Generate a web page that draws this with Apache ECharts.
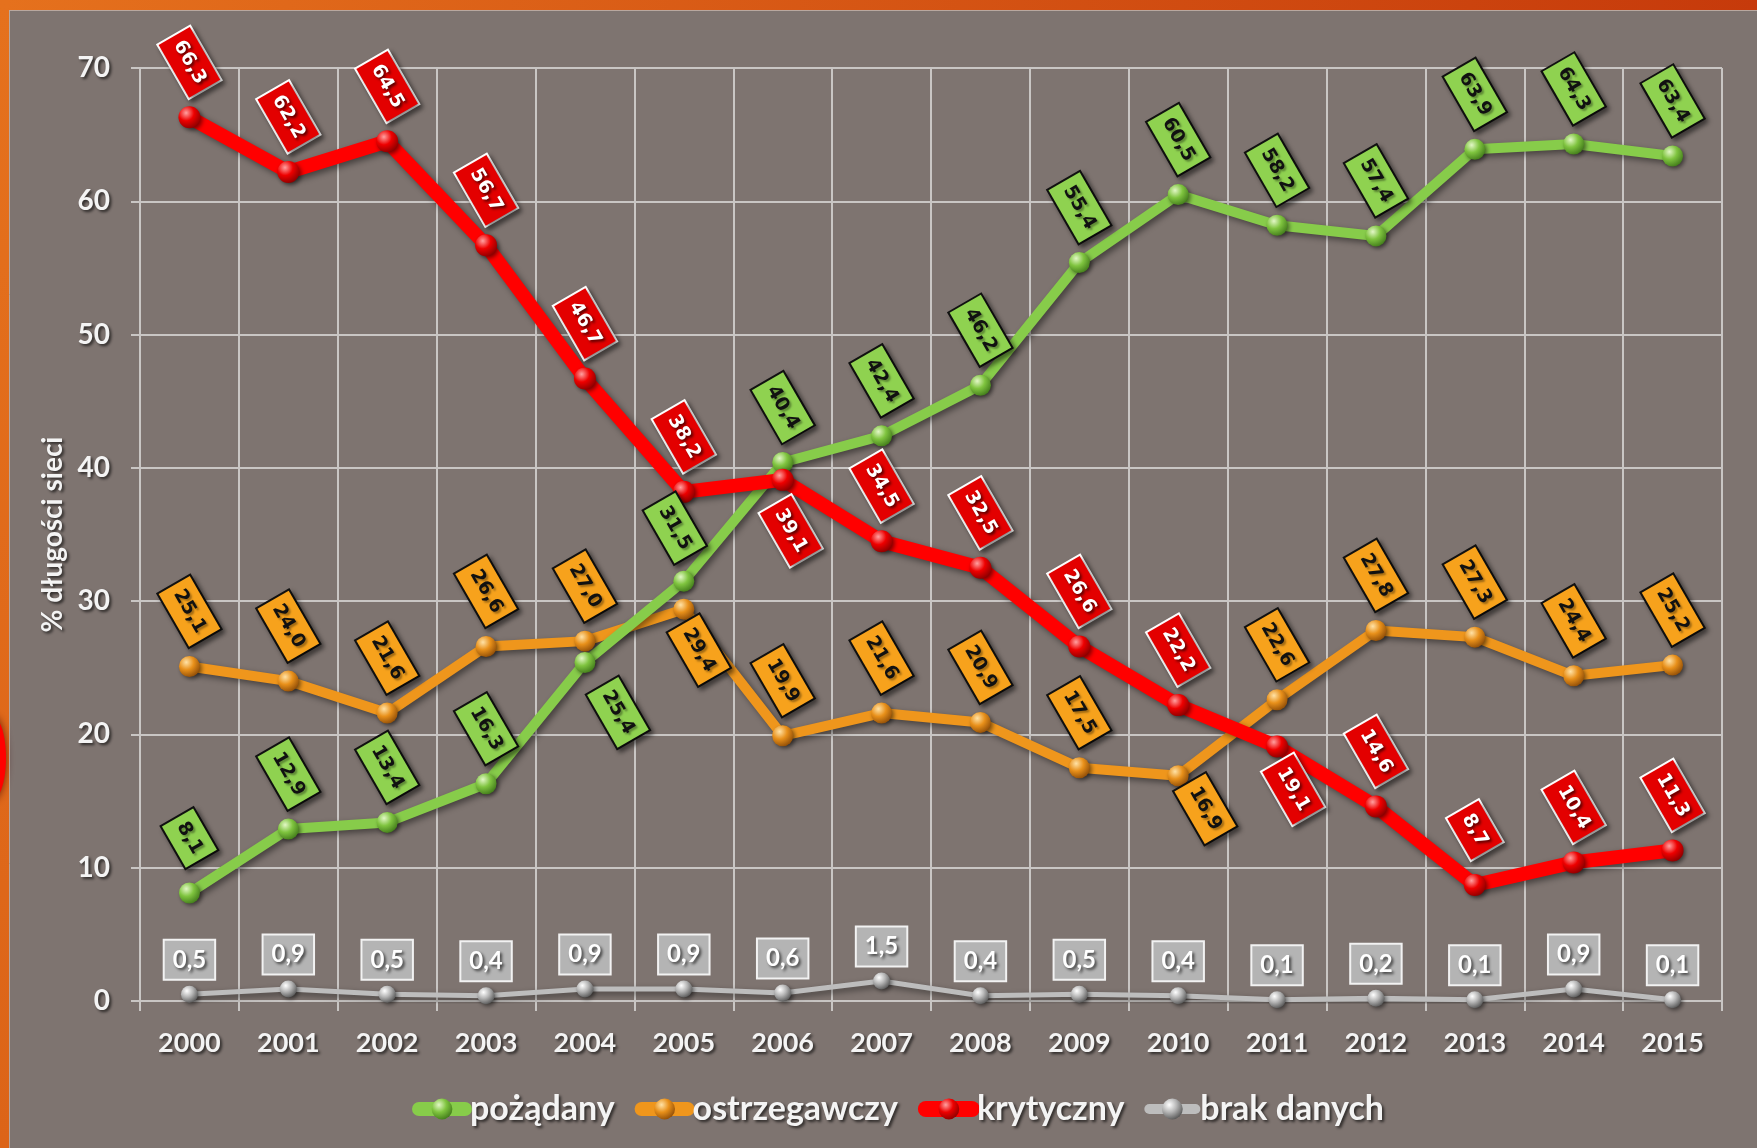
<!DOCTYPE html>
<html><head><meta charset="utf-8">
<script src="https://cdn.jsdelivr.net/npm/echarts@6/dist/echarts.min.js"></script>
<style>html,body{margin:0;padding:0;background:#7e7470}#c{width:1757px;height:1148px}</style>
</head><body><div id="c"></div>
<script>
const years = ['2000','2001','2002','2003','2004','2005','2006','2007','2008','2009','2010','2011','2012','2013','2014','2015'];
const pozadany     = [8.1, 12.9, 13.4, 16.3, 25.4, 31.5, 40.4, 42.4, 46.2, 55.4, 60.5, 58.2, 57.4, 63.9, 64.3, 63.4];
const ostrzegawczy = [25.1, 24.0, 21.6, 26.6, 27.0, 29.4, 19.9, 21.6, 20.9, 17.5, 16.9, 22.6, 27.8, 27.3, 24.4, 25.2];
const krytyczny    = [66.3, 62.2, 64.5, 56.7, 46.7, 38.2, 39.1, 34.5, 32.5, 26.6, 22.2, 19.1, 14.6, 8.7, 10.4, 11.3];
const brakDanych   = [0.5, 0.9, 0.5, 0.4, 0.9, 0.9, 0.6, 1.5, 0.4, 0.5, 0.4, 0.1, 0.2, 0.1, 0.9, 0.1];
const names = ['pożądany', 'ostrzegawczy', 'krytyczny', 'brak danych'];
const yMin = 0, yMax = 70, yStep = 10;

// label placement: screen shift of the rotated box centre from its point
const labelShift = {
  'pożądany': {4: [33, 50], 5: [-9, -53]},
  'ostrzegawczy': {5: [15, 41], 10: [27, 33]},
  'krytyczny': {6: [8, 51], 11: [16, 43]}
};
const DEF_SHIFT = [0, -55];
const ROT = -60;
function localOffset(d) {
  const r = ROT * Math.PI / 180, c = Math.cos(r), s = Math.sin(r);
  return [c * d[0] - s * d[1], s * d[0] + c * d[1]];
}
const fmt = p => Number(p.value).toFixed(1).replace('.', ',');
const shadowTxt = {textShadowColor: 'rgba(0,0,0,0.65)', textShadowBlur: 3, textShadowOffsetX: 2, textShadowOffsetY: 2};
function sphere(light, base, dark) {
  return {type: 'radial', x: 0.35, y: 0.3, r: 0.8, colorStops: [
    {offset: 0, color: light}, {offset: 0.45, color: base}, {offset: 1, color: dark}]};
}
function boxLabel(bg, border, txt) {
  return Object.assign({
    show: true, position: 'inside', rotate: ROT, formatter: fmt,
    fontFamily: 'DejaVu Sans', fontWeight: 'bold', fontSize: 19, lineHeight: 22, color: txt,
    backgroundColor: bg, borderColor: border, borderWidth: 2, padding: [7, 7],
    shadowColor: 'rgba(0,0,0,0.45)', shadowBlur: 5, shadowOffsetX: 3, shadowOffsetY: 3
  }, txt === '#fff' ? shadowTxt : {textShadowColor: 'rgba(0,0,0,0.35)', textShadowBlur: 2, textShadowOffsetX: 2, textShadowOffsetY: 2});
}
function mkData(name, vals) {
  const sh = labelShift[name] || {};
  return vals.map((v, i) => ({value: v, label: {offset: localOffset(sh[i] || DEF_SHIFT)}}));
}
function mkSeries(name, vals, color, width, size, grad, label, rotated) {
  return {
    name, type: 'line', data: rotated ? mkData(name, vals) : vals,
    symbol: 'circle', symbolSize: size, showSymbol: true,
    lineStyle: {color, width, shadowColor: 'rgba(0,0,0,0.45)', shadowBlur: 6, shadowOffsetX: 3, shadowOffsetY: 3},
    itemStyle: {color: grad, shadowColor: 'rgba(0,0,0,0.5)', shadowBlur: 4, shadowOffsetX: 2, shadowOffsetY: 2},
    label, emphasis: {disabled: true}
  };
}
const gridCol = '#c9c6c4';
const chart = echarts.init(document.getElementById('c'));
const series = [
  mkSeries('brak danych', brakDanych, '#bdbdbd', 5, 17, sphere('#ffffff', '#b5b5b5', '#4a4a4a'),
    Object.assign({show: true, position: 'top', distance: 7, formatter: fmt, fontFamily: 'Lato', fontWeight: 'bold',
      fontSize: 24, lineHeight: 26, color: '#fff', backgroundColor: '#b4b4b4', borderColor: '#f2f2f2', borderWidth: 2,
      padding: [6, 8]}, shadowTxt), false),
  mkSeries('ostrzegawczy', ostrzegawczy, '#ef961c', 10, 21, sphere('#ffe2a6', '#e8901a', '#854505'),
    boxLabel('#f7a21c', '#111', '#111'), true),
  mkSeries('pożądany', pozadany, '#87cc4a', 10, 21, sphere('#e2f7c6', '#7fc43f', '#3a7216'),
    boxLabel('#8fd250', '#111', '#111'), true),
  mkSeries('krytyczny', krytyczny, '#ff0000', 14, 22, sphere('#ffa0a0', '#ee0000', '#800000'),
    boxLabel('#e30000', '#fff', '#fff'), true)
];
chart.setOption({
  animation: false,
  backgroundColor: '#7e7470',
  textStyle: {fontFamily: 'Lato'},
  graphic: [
    {type: 'rect', shape: {x: 0, y: 0, width: 1757, height: 10}, style: {fill: {type: 'linear', x: 0, y: 0, x2: 1, y2: 0,
      colorStops: [{offset: 0, color: '#e5711d'}, {offset: 1, color: '#c63a0b'}]}}},
    {type: 'rect', shape: {x: 0, y: 0, width: 9, height: 1148}, style: {fill: {type: 'linear', x: 0, y: 0, x2: 0, y2: 1,
      colorStops: [{offset: 0, color: '#e5711d'}, {offset: 1, color: '#dc6418'}]}}},
    {type: 'ellipse', shape: {cx: -8, cy: 758, rx: 14, ry: 42}, style: {fill: '#ff0000', shadowColor: 'rgba(60,0,0,0.7)', shadowBlur: 8}},
    {type: 'line', shape: {x1: 9.5, y1: 10, x2: 9.5, y2: 1148}, style: {stroke: '#b9a89f', lineWidth: 1}},
    {type: 'line', shape: {x1: 9, y1: 10.5, x2: 1757, y2: 10.5}, style: {stroke: '#b9a89f', lineWidth: 1}}
  ],
  grid: {left: 140, right: 35, top: 68, bottom: 147, containLabel: false},
  legend: {
    left: 407, top: 1087, itemWidth: 46, itemHeight: 26, itemGap: 20,
    data: [
      {name: 'pożądany', lineStyle: {width: 14, cap: 'round'}},
      {name: 'ostrzegawczy', lineStyle: {width: 14, cap: 'round'}},
      {name: 'krytyczny', lineStyle: {width: 16, cap: 'round'}},
      {name: 'brak danych', lineStyle: {width: 10, cap: 'round'}}
    ],
    textStyle: Object.assign({fontSize: 34, fontWeight: 'bold', color: '#f4f4f4', fontFamily: 'Lato'}, shadowTxt)
  },
  xAxis: {
    type: 'category', data: years, boundaryGap: true,
    axisLine: {lineStyle: {color: gridCol, width: 2}},
    axisTick: {show: true, length: 10, lineStyle: {color: gridCol, width: 2}},
    axisLabel: Object.assign({margin: 29, fontSize: 27, fontWeight: 'bold', color: '#f4f4f4', fontFamily: 'Lato'}, shadowTxt),
    splitLine: {show: true, lineStyle: {color: gridCol, width: 2}}
  },
  yAxis: {
    type: 'value', min: yMin, max: yMax, interval: yStep,
    name: '% długości sieci', nameLocation: 'middle', nameGap: 71, nameRotate: 90,
    nameTextStyle: Object.assign({fontSize: 28, fontWeight: 'bold', color: '#f4f4f4', fontFamily: 'Lato'}, shadowTxt),
    axisLine: {show: true, lineStyle: {color: gridCol, width: 2}},
    axisTick: {show: true, length: 9, lineStyle: {color: gridCol, width: 2}},
    axisLabel: Object.assign({margin: 30, fontSize: 28, fontWeight: 'bold', color: '#f4f4f4', fontFamily: 'Lato'}, shadowTxt),
    splitLine: {show: true, lineStyle: {color: gridCol, width: 2}}
  },
  series
});
</script></body></html>
